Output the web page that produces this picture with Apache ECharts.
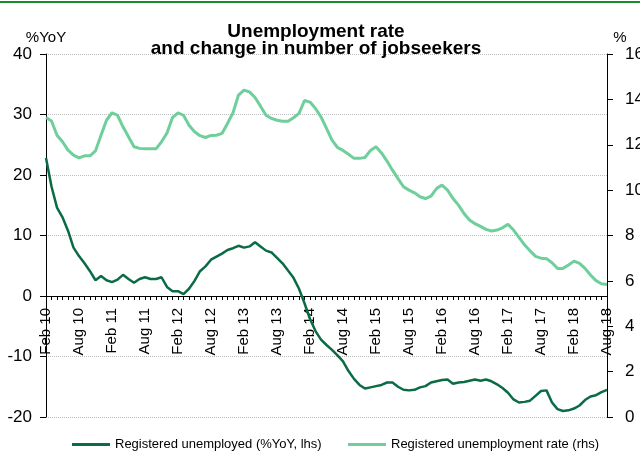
<!DOCTYPE html>
<html>
<head>
<meta charset="utf-8">
<script src="https://cdn.jsdelivr.net/npm/echarts@6/dist/echarts.min.js"></script>
<style>
html,body{margin:0;padding:0;background:#fff;}
#chart{width:640px;height:454px;}
</style>
</head>
<body>
<div id="chart"></div>
<script>
// monthly, Feb 2010 .. Aug 2018
var monthNames = ['Jan','Feb','Mar','Apr','May','Jun','Jul','Aug','Sep','Oct','Nov','Dec'];
var months = [];
for (var y = 2010; y <= 2018; y++) {
	for (var m = 0; m < 12; m++) {
		if (y == 2010 && m < 1) continue;
		if (y == 2018 && m > 7) break;
		months.push(monthNames[m] + ' ' + String(y).slice(2));
	}
}

// Registered unemployed, %YoY (lhs)
var unemployedYoY = [
	22.8, 18.1, 14.6, 13.0, 10.8, 8.0, 6.6, 5.4, 4.1, 2.6,
	3.3, 2.6, 2.3, 2.7, 3.5, 2.8, 2.2, 2.8, 3.1, 2.8,
	2.8, 3.1, 1.5, 0.8, 0.8, 0.3, 1.2, 2.5, 4.1, 4.9,
	6.0, 6.5, 7.0, 7.6, 7.9, 8.3, 8.0, 8.2, 8.9, 8.2,
	7.5, 7.2, 6.3, 5.4, 4.2, 3.0, 1.2, -1.2, -3.8, -5.8,
	-7.2, -8.1, -8.9, -9.8, -10.8, -12.4, -13.7, -14.7, -15.3, -15.1,
	-14.9, -14.7, -14.3, -14.3, -15.0, -15.5, -15.6, -15.5, -15.1, -14.9,
	-14.3, -14.1, -13.9, -13.8, -14.5, -14.3, -14.2, -14.0, -13.8, -14.0,
	-13.8, -14.1, -14.6, -15.2, -16.0, -17.1, -17.6, -17.5, -17.3, -16.5,
	-15.7, -15.6, -17.6, -18.7, -19.0, -18.9, -18.6, -18.1, -17.2, -16.6,
	-16.4, -15.9, -15.5
];

// Registered unemployment rate, % (rhs)
var unemploymentRate = [
	13.2, 13.05, 12.42, 12.13, 11.76, 11.54, 11.42, 11.51, 11.51, 11.73,
	12.42, 13.08, 13.41, 13.3, 12.79, 12.35, 11.91, 11.84, 11.82, 11.82,
	11.82, 12.13, 12.52, 13.2, 13.41, 13.3, 12.86, 12.57, 12.4, 12.32,
	12.41, 12.42, 12.5, 12.94, 13.41, 14.19, 14.41, 14.33, 14.08, 13.7,
	13.3, 13.16, 13.08, 13.04, 13.04, 13.19, 13.38, 13.95, 13.88, 13.6,
	13.23, 12.72, 12.2, 11.88, 11.75, 11.58, 11.4, 11.4, 11.44, 11.75,
	11.91, 11.64, 11.28, 10.88, 10.51, 10.15, 10.0, 9.88, 9.71, 9.63,
	9.74, 10.07, 10.22, 10.0, 9.63, 9.34, 8.97, 8.68, 8.52, 8.4,
	8.27, 8.2, 8.24, 8.34, 8.5, 8.24, 7.92, 7.59, 7.33, 7.08,
	7.0, 6.98, 6.8, 6.55, 6.55, 6.7, 6.87, 6.77, 6.55, 6.26,
	6.01, 5.87, 5.84
];

var seriesNames = ['Registered unemployed (%YoY, lhs)', 'Registered unemployment rate (rhs)'];

var sans = "'Liberation Sans', Arial, sans-serif";

var chartInstance = echarts.init(document.getElementById('chart'));

function legendAt(left, name) {
	return {
		left: left,
		top: 433,
		icon: 'rect',
		itemWidth: 38,
		itemHeight: 3,
		itemGap: 0,
		textStyle: {
			fontFamily: sans,
			fontSize: 13,
			color: '#000'
		},
		data: [name]
	};
}

var option = {
	animation: false,
	color: ['#0b6b45', '#6fcf9b'],
	title: {
		text: 'Unemployment rate\nand change in number of jobseekers',
		left: 311,
		textAlign: 'center',
		top: 18,
		textStyle: {
			fontFamily: sans,
			fontWeight: 'bold',
			fontSize: 19,
			lineHeight: 17,
			color: '#000'
		}
	},
	legend: [legendAt(67, seriesNames[0]), legendAt(343, seriesNames[1])],
	grid: {
		left: 46,
		right: 33,
		top: 54,
		bottom: 37,
		outerBoundsMode: 'none',
		containLabel: false
	},
	xAxis: [{
		type: 'category',
		data: months,
		boundaryGap: false,
		offset: -121, // sits on the lhs zero line
		axisLine: {
			onZero: false,
			lineStyle: { color: '#000', width: 1 }
		},
		axisTick: {
			interval: 0,
			length: 4,
			lineStyle: { color: '#000' }
		},
		axisLabel: {
			interval: 5,
			rotate: 90,
			margin: 12,
			fontFamily: sans,
			fontSize: 15,
			color: '#000'
		},
		splitLine: { show: false }
	}],
	yAxis: [{
		type: 'value',
		min: -20,
		max: 40,
		interval: 10,
		name: '%YoY',
		nameGap: 8,
		nameTextStyle: { fontFamily: sans, fontSize: 15, color: '#000' },
		axisLine: { show: true, lineStyle: { color: '#000' } },
		axisTick: { show: true, length: 6, lineStyle: { color: '#000' } },
		axisLabel: { margin: 14, fontFamily: sans, fontSize: 17, color: '#000' },
		splitLine: { show: true, lineStyle: { color: '#bdbdbd', type: 'dotted', width: 1 } }
	}, {
		type: 'value',
		min: 0,
		max: 16,
		interval: 2,
		position: 'right',
		name: '%',
		nameGap: 8,
		nameTextStyle: { fontFamily: sans, fontSize: 15, color: '#000', padding: [0, 0, 0, 26] },
		axisLine: { show: true, lineStyle: { color: '#000' } },
		axisTick: { show: true, length: 6, lineStyle: { color: '#000' } },
		axisLabel: { margin: 18, fontFamily: sans, fontSize: 17, color: '#000' },
		splitLine: { show: false }
	}],
	series: [{
		name: seriesNames[0],
		type: 'line',
		yAxisIndex: 0,
		data: unemployedYoY,
		symbol: 'none',
		lineStyle: { width: 2.5 },
		z: 3
	}, {
		name: seriesNames[1],
		type: 'line',
		yAxisIndex: 1,
		data: unemploymentRate,
		symbol: 'none',
		lineStyle: { width: 3 },
		z: 2
	}],
	graphic: [{
		type: 'rect',
		left: 0,
		top: 1,
		shape: { width: 640, height: 2 },
		style: { fill: '#1a8a2e' }
	}]
};

chartInstance.setOption(option);
</script>
</body>
</html>
